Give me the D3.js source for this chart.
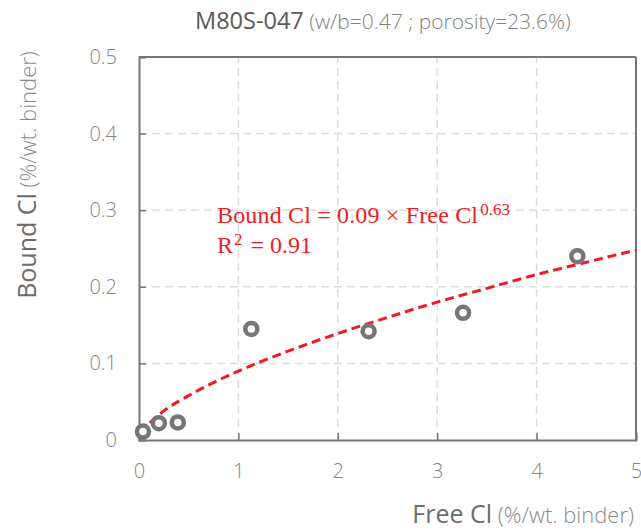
<!DOCTYPE html>
<html><head><meta charset="utf-8">
<script src="https://cdn.jsdelivr.net/npm/d3@7"></script>
<style>body{margin:0;background:#fff}</style>
</head><body>
<script>
const freeCl = [0.04, 0.20, 0.39, 1.13, 2.31, 3.26, 4.41];
const boundCl = [0.011, 0.022, 0.023, 0.145, 0.142, 0.166, 0.240];
// trend line
const trendX = [0.02, 0.05, 0.1, 0.25, 0.5, 0.75, 1, 1.5, 2, 2.5, 3, 3.5, 4, 4.5, 5];
const trendY = [0.008, 0.014, 0.021, 0.038, 0.058, 0.075, 0.090, 0.116, 0.139, 0.160, 0.180, 0.198, 0.216, 0.232, 0.248];
const xTicks = [0, 1, 2, 3, 4, 5];
const yTicks = [0, 0.1, 0.2, 0.3, 0.4, 0.5];
const yTickLabels = ["0", "0.1", "0.2", "0.3", "0.4", "0.5"];

const W = 641, H = 530;
const m = {l: 139, r: 5, t: 57, b: 90};
const svg = d3.select("body").append("svg").attr("width", W).attr("height", H);
const x = d3.scaleLinear().domain([0, 5]).range([m.l, W - m.r]);
const y = d3.scaleLinear().domain([0, 0.5]).range([H - m.b, m.t]);
const axisCol = "#767676", tickCol = "#858585";
const font = "'Open Sans', sans-serif";

// grid
svg.append("g").selectAll("line").data(xTicks.slice(1, -1)).join("line")
  .attr("x1", d => x(d)).attr("x2", d => x(d)).attr("y1", y(0)).attr("y2", y(0.5))
  .attr("stroke", "#dcdcdc").attr("stroke-width", 1.5).attr("stroke-dasharray", "8,5");
svg.append("g").selectAll("line").data(yTicks.slice(1, -1)).join("line")
  .attr("y1", d => y(d)).attr("y2", d => y(d)).attr("x1", x(0)).attr("x2", x(5))
  .attr("stroke", "#dcdcdc").attr("stroke-width", 1.5).attr("stroke-dasharray", "8,5");

// axes
const xa = svg.append("g").attr("transform", `translate(0,${y(0)})`)
  .call(d3.axisBottom(x).tickValues(xTicks).tickSize(-7).tickFormat(d3.format("d")));
const ya = svg.append("g").attr("transform", `translate(${x(0)},0)`)
  .call(d3.axisLeft(y).tickValues(yTicks).tickSize(-7).tickPadding(22).tickFormat((d, i) => yTickLabels[i]));
[xa, ya].forEach(g => {
  g.select(".domain").attr("stroke", axisCol).attr("stroke-width", 2);
  g.selectAll(".tick line").attr("stroke", axisCol).attr("stroke-width", 1.5);
  g.selectAll(".tick text").attr("fill", tickCol).attr("font-family", font).attr("font-size", 20).attr("font-weight", 300);
});
xa.selectAll(".tick text").attr("dy", null).attr("y", 38);
// top and right border
svg.append("line").attr("x1", x(0)).attr("x2", x(5)).attr("y1", y(0.5)).attr("y2", y(0.5)).attr("stroke", axisCol).attr("stroke-width", 2);
svg.append("line").attr("x1", x(5)).attr("x2", x(5)).attr("y1", y(0.5)).attr("y2", y(0)).attr("stroke", axisCol).attr("stroke-width", 2);

// trend
const line = d3.line().x((d, i) => x(trendX[i])).y((d, i) => y(trendY[i])).curve(d3.curveMonotoneX);
svg.append("path").datum(trendY).attr("d", line).attr("fill", "none")
  .attr("stroke", "#ee1c25").attr("stroke-width", 3).attr("stroke-dasharray", "9,5");

// points
svg.append("g").selectAll("circle").data(freeCl).join("circle")
  .attr("cx", d => x(d)).attr("cy", (d, i) => y(boundCl[i])).attr("r", 6)
  .attr("fill", "#fff").attr("stroke", "#757575").attr("stroke-width", 4.5);

// title
const t = svg.append("text").attr("x", 195).attr("y", 29).attr("font-family", font);
t.append("tspan").text("M80S-047").attr("font-size", 23.5).attr("fill", "#595959").attr("font-weight", 400);
t.append("tspan").text(" (w/b=0.47 ; porosity=23.6%)").attr("font-size", 21).attr("fill", "#808080").attr("font-weight", 300);

// y label
const yl = svg.append("text").attr("transform", "translate(36,175) rotate(-90)").attr("text-anchor", "middle").attr("font-family", font);
yl.append("tspan").text("Bound Cl").attr("font-size", 25).attr("fill", "#6d6d6d").attr("font-weight", 500);
yl.append("tspan").text(" (%/wt. binder)").attr("font-size", 22).attr("fill", "#8a8a8a").attr("font-weight", 300);

// x label
const xl = svg.append("text").attr("x", 634).attr("y", 523).attr("text-anchor", "end").attr("font-family", font);
xl.append("tspan").text("Free Cl").attr("font-size", 25).attr("fill", "#6d6d6d").attr("font-weight", 500);
xl.append("tspan").text(" (%/wt. binder)").attr("font-size", 22).attr("fill", "#8a8a8a").attr("font-weight", 300);

// equation
const eqFont = "'Liberation Serif', serif";
const e1 = svg.append("text").attr("x", 217).attr("y", 223).attr("font-family", eqFont).attr("font-size", 24).attr("fill", "#ee1c25");
e1.append("tspan").text("Bound Cl = 0.09 × Free Cl").attr("textLength", 261).attr("lengthAdjust", "spacing");
e1.append("tspan").text("0.63").attr("font-size", 17).attr("dy", -8).attr("dx", 2);
const e2 = svg.append("text").attr("x", 217).attr("y", 253).attr("font-family", eqFont).attr("font-size", 24).attr("fill", "#ee1c25");
e2.append("tspan").text("R");
e2.append("tspan").text("2").attr("font-size", 17).attr("dy", -8).attr("dx", 1);
e2.append("tspan").text(" = 0.91").attr("dy", 8).attr("dx", 2);
</script>
</body></html>
